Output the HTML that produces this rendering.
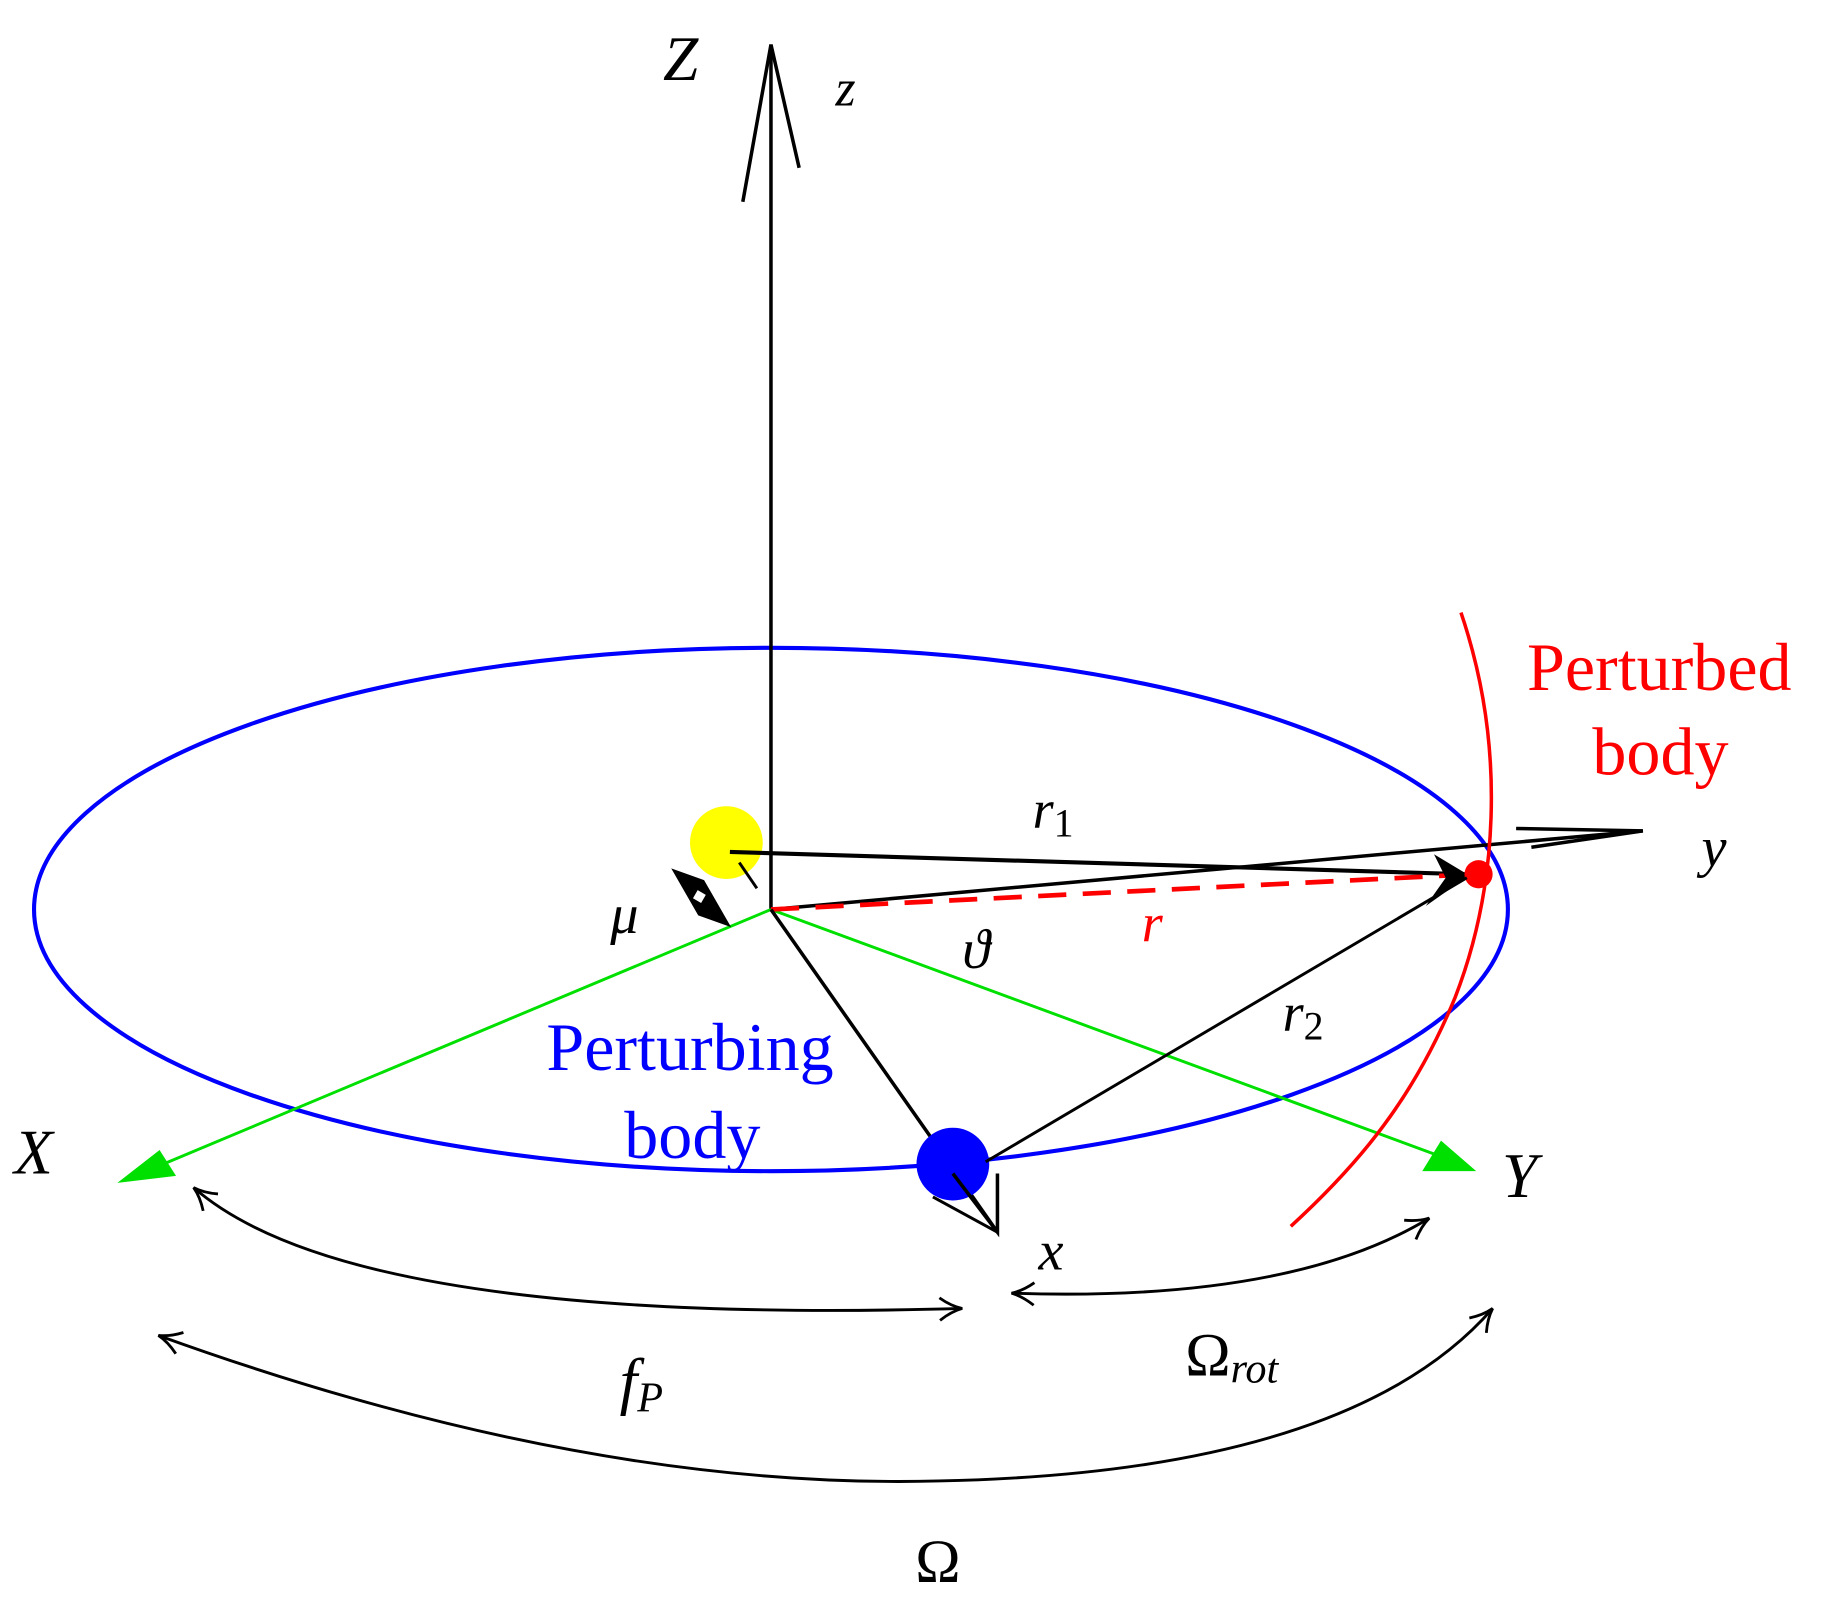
<!DOCTYPE html>
<html><head><meta charset="utf-8"><style>
html,body{margin:0;padding:0;background:#fff;}
svg{display:block;}
text{font-family:"Liberation Serif",serif;}
</style></head><body>
<svg width="1840" height="1603" viewBox="0 0 1568 1366" preserveAspectRatio="none" xmlns="http://www.w3.org/2000/svg">
<defs>
<marker id="oa" viewBox="0 0 20 20" refX="18" refY="10" markerWidth="24" markerHeight="24" markerUnits="userSpaceOnUse" orient="auto">
<path d="M2,2 Q10,8 18,10 Q10,12 2,18" fill="none" stroke="#000" stroke-width="2"/>
</marker>
<marker id="oas" viewBox="0 0 20 20" refX="2" refY="10" markerWidth="24" markerHeight="24" markerUnits="userSpaceOnUse" orient="auto">
<path d="M18,2 Q10,8 2,10 Q10,12 18,18" fill="none" stroke="#000" stroke-width="2"/>
</marker>
</defs>
<ellipse cx="657" cy="775" rx="628" ry="223" fill="none" stroke="#0000ff" stroke-width="3.5"/>
<line x1="657" y1="775" x2="657" y2="38" stroke="#000" stroke-width="3"/>
<polyline points="633,172 657,38 681,143" fill="none" stroke="#000" stroke-width="3"/>
<text x="565" y="68" font-size="54" font-style="italic">Z</text>
<text x="712" y="90" font-size="44" font-style="italic">z</text>
<line x1="657" y1="775" x2="120" y2="1000" stroke="#00e000" stroke-width="2.5"/>
<polygon points="100,1008 150,1002 136,980" fill="#00e000"/>
<line x1="657" y1="775" x2="1240" y2="990" stroke="#00e000" stroke-width="2.5"/>
<polygon points="1258,998 1212,998 1228,972" fill="#00e000"/>
<circle cx="619" cy="718" r="31" fill="#ffff00"/>
<line x1="630" y1="735" x2="645" y2="757" stroke="#000" stroke-width="2.5"/>
<line x1="657" y1="775" x2="1400" y2="708" stroke="#000" stroke-width="3"/>
<polyline points="1292,706 1400,708 1305,722" fill="none" stroke="#000" stroke-width="3"/>
<text x="1450" y="738" font-size="48" font-style="italic">y</text>
<line x1="622" y1="726" x2="1250" y2="745" stroke="#000" stroke-width="3.5"/>
<line x1="657" y1="775" x2="1255" y2="745" stroke="#ff0000" stroke-width="4" stroke-dasharray="24,14"/>
<polygon points="1252,746 1222,728 1232,748 1215,772" fill="#000"/>
<circle cx="1260" cy="745" r="12" fill="#ff0000"/>
<path d="M1245,522 C1285,640 1275,760 1240,850 C1205,935 1160,990 1100,1045" fill="none" stroke="#ff0000" stroke-width="3"/>
<line x1="657" y1="775" x2="850" y2="1050" stroke="#000" stroke-width="3"/>
<ellipse cx="812" cy="992" rx="31" ry="31" fill="#0000ff"/>
<polyline points="812,1000 850,1050 850,1000" fill="none" stroke="#000" stroke-width="3"/>
<polyline points="795,1020 850,1050" fill="none" stroke="#000" stroke-width="2.5"/>
<line x1="840" y1="990" x2="1250" y2="748" stroke="#000" stroke-width="2.5"/>
<polygon points="572,740 600,750 623,790 595,780" fill="#000"/>
<rect x="592" y="760" width="8" height="8" fill="#fff" transform="rotate(30 596 764)"/>
<text x="520" y="795" font-size="48" font-style="italic">μ</text>
<text x="880" y="705" font-size="46" font-style="italic">r<tspan font-size="34" font-style="normal" dy="8">1</tspan></text>
<text x="973" y="802" font-size="46" font-style="italic" fill="#ff0000">r</text>
<text x="820" y="825" font-size="48" font-style="italic">ϑ</text>
<text x="1093" y="878" font-size="46" font-style="italic">r<tspan font-size="34" font-style="normal" dy="8">2</tspan></text>
<text x="588" y="912" font-size="58" fill="#0000ff" text-anchor="middle">Perturbing</text>
<text x="590" y="987" font-size="58" fill="#0000ff" text-anchor="middle">body</text>
<text x="1414" y="588" font-size="58" fill="#ff0000" text-anchor="middle">Perturbed</text>
<text x="1415" y="660" font-size="58" fill="#ff0000" text-anchor="middle">body</text>
<text x="12" y="1000" font-size="54" font-style="italic">X</text>
<text x="1280" y="1020" font-size="54" font-style="italic">Y</text>
<text x="885" y="1082" font-size="48" font-style="italic">x</text>
<path d="M165,1012 Q300,1130 820,1115" fill="none" stroke="#000" stroke-width="2.5" marker-start="url(#oas)" marker-end="url(#oa)"/>
<path d="M862,1102 Q1100,1110 1218,1038" fill="none" stroke="#000" stroke-width="2.5" marker-start="url(#oas)" marker-end="url(#oa)"/>
<path d="M135,1138 Q500,1270 800,1262 Q1150,1255 1272,1115" fill="none" stroke="#000" stroke-width="2.5" marker-start="url(#oas)" marker-end="url(#oa)"/>
<text x="528" y="1195" font-size="54" font-style="italic">f<tspan font-size="36" dy="8">P</tspan></text>
<text x="1010" y="1172" font-size="52">Ω<tspan font-size="36" font-style="italic" dy="6">rot</tspan></text>
<text x="780" y="1348" font-size="52">Ω</text>
</svg>
</body></html>
